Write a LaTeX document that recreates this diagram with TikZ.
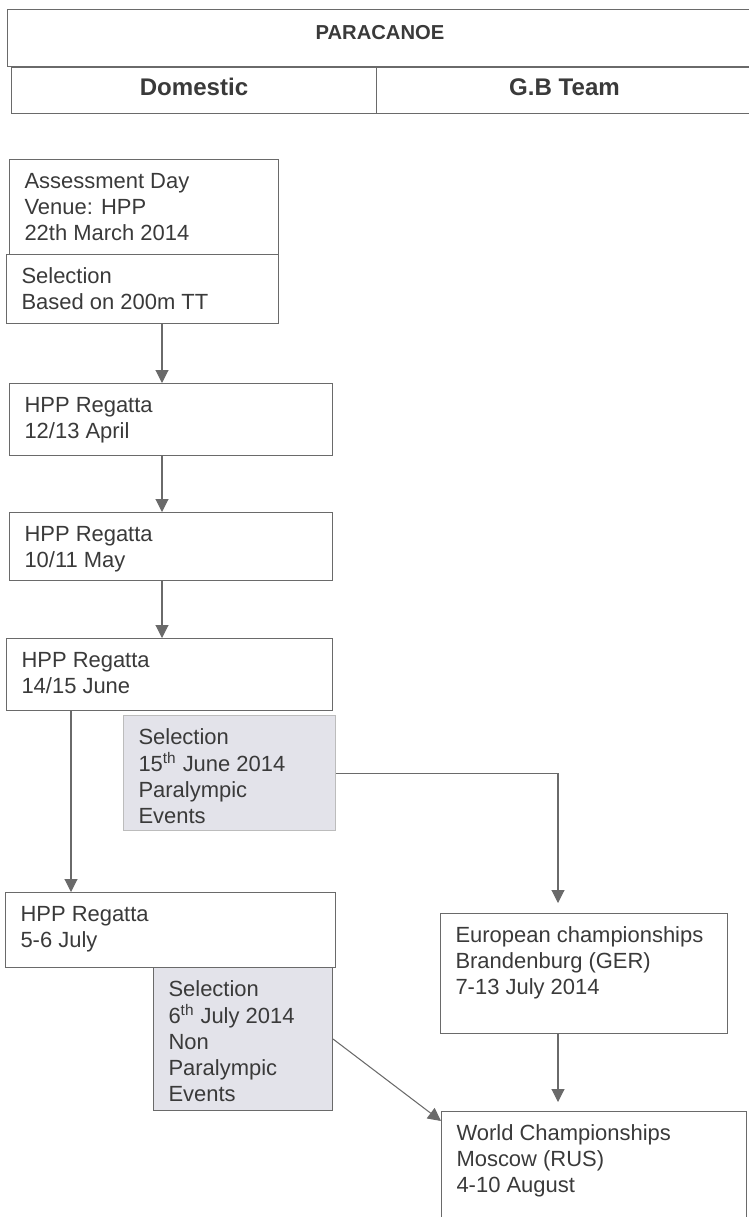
\documentclass[tikz,border=0pt]{standalone}
\usepackage{fontspec}
\setmainfont{Liberation Sans}
\usetikzlibrary{arrows.meta}
\definecolor{ink}{HTML}{3A3A3A}
\definecolor{edge}{HTML}{6A6A6A}
\definecolor{selfill}{HTML}{E3E3EA}
\newlength\pxu
\setlength\pxu{0.02cm}
\newcommand{\boxtext}[3]{\parbox[t][#2\pxu][t]{#1\pxu}{\begin{tabular}[t]{@{}l@{}}#3\end{tabular}}}

\begin{document}
\begin{tikzpicture}[x=0.02cm, y=-0.02cm,
    box/.style={rectangle, draw=edge, line width=0.6pt, anchor=north west, inner xsep=0.3cm, inner ysep=0.22cm, text=ink, font={\fontsize{12.5}{14.8}\selectfont}},
    selbox/.style={box, fill=selfill},
    head/.style={rectangle, draw=edge, line width=0.6pt, anchor=north west, inner ysep=0pt, text=ink},
    arr/.style={-{Triangle[length=0.26cm, width=0.26cm]}, draw=edge, line width=0.6pt}
]
    \useasboundingbox (0,0) rectangle (748,1217);

    % header
    \node[head, minimum width=14.9cm, text height=0.6cm, text depth=0.54cm, font=\bfseries\fontsize{11.5}{13}\selectfont] (title) at (7,9) {PARACANOE};
    \node[head, minimum width=7.3cm, text height=0.56cm, text depth=0.36cm, font=\bfseries\fontsize{13.7}{16}\selectfont] (domestic) at (11,67) {Domestic};
    \node[head, minimum width=7.52cm, text height=0.56cm, text depth=0.36cm, font=\bfseries\fontsize{13.7}{16}\selectfont] (gbteam) at (376,67) {G.B Team};

    % domestic column
    \node[box] (assess) at (9,159) {\boxtext{239}{73}{Assessment Day\\Venue: HPP\\22th March 2014}};
    \node[box] (basis) at (6,254) {\boxtext{242}{47}{Selection\\Based on 200m TT}};
    \node[box] (aprReg) at (9,383) {\boxtext{293}{50}{HPP Regatta\\12/13 April}};
    \node[box] (mayReg) at (9,512) {\boxtext{293}{46}{HPP Regatta\\10/11 May}};
    \node[box] (junReg) at (6,638) {\boxtext{296}{50}{HPP Regatta\\14/15 June}};
    \node[selbox, draw=edge!45] (junSel) at (123,715) {\boxtext{182}{93}{Selection\\15\textsuperscript{th} June 2014\\Paralympic\\Events}};
    \node[box] (julReg) at (5,892) {\boxtext{300}{53}{HPP Regatta\\5-6 July}};
    \node[selbox] (julSel) at (153,967) {\boxtext{149}{121}{Selection\\6\textsuperscript{th} July 2014\\Non\\Paralympic\\Events}};

    % G.B team column
    \node[box] (euro) at (440,913) {\boxtext{257}{98}{European championships\\Brandenburg (GER)\\7-13 July 2014}};
    \node[box] (world) at (441,1111) {\boxtext{275}{108}{World Championships\\Moscow (RUS)\\4-10 August}};

    \coordinate (lspine) at (71,0);
    \coordinate (mspine) at (162,0);
    \coordinate (rspine) at (558,0);

    \draw[arr] (basis.south -| mspine) -- (aprReg.north -| mspine);
    \draw[arr] (aprReg.south -| mspine) -- (mayReg.north -| mspine);
    \draw[arr] (mayReg.south -| mspine) -- (junReg.north -| mspine);
    \draw[arr] (junReg.south -| lspine) -- (julReg.north -| lspine);
    \draw[arr, shorten >=0.2cm] (junSel.east) -| (euro.north -| rspine);
    \draw[arr, shorten >=0.18cm] (euro.south -| rspine) -- (world.north -| rspine);
    \draw[arr] (julSel.east) -- ([yshift=-0.2cm]world.north west);
\end{tikzpicture}
\end{document}
